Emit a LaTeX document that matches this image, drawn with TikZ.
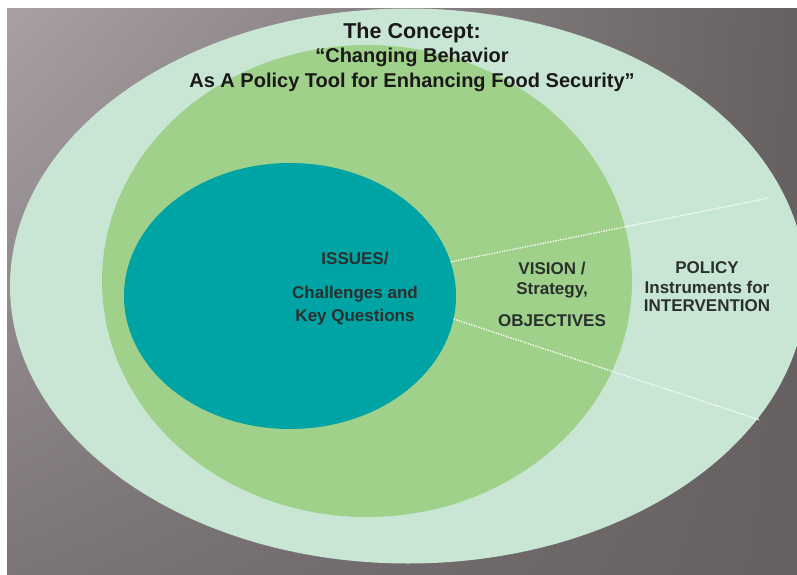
\documentclass[tikz,border=0pt]{standalone}
\usepackage{fontspec}
\setmainfont{Liberation Sans}
\usetikzlibrary{shapes.geometric,shadings}
\definecolor{bglight}{RGB}{168,160,162}
\definecolor{bgmid}{RGB}{124,117,119}
\definecolor{bgdark}{RGB}{102,96,97}
\definecolor{palegreen}{RGB}{201,230,212}
\definecolor{leafgreen}{RGB}{160,209,138}
\definecolor{issuesteal}{RGB}{0,164,164}
\definecolor{textgray}{RGB}{42,48,46}

\begin{document}
\begin{tikzpicture}[x=1pt,y=-1pt,
    blob/.style={ellipse,inner sep=0pt},
    ttl/.style={anchor=base,font=\bfseries\fontsize{20}{22}\selectfont,text=black!90},
    lbl/.style={anchor=base,font=\bfseries\fontsize{17}{19}\selectfont,text=textgray}]
    \fill [white] (0,0) rectangle (797,575);
    \shade [upper left=bglight,upper right=bgdark,lower left=bgmid,lower right=bgdark] (7,9) rectangle (797,575);
    \begin{scope}
    \clip (7,9) rectangle (797,575);
    \node [blob,fill=palegreen,minimum width=796,minimum height=555] (outer) at (408,286) {};
    \node [blob,fill=leafgreen,minimum width=530,minimum height=472] (middle) at (367,281) {};
    \node [blob,fill=issuesteal,minimum width=332,minimum height=266] (issues) at (290,296) {};
    \end{scope}
    \coordinate (upend) at (769,198);
    \coordinate (lowend) at (760,420);
    \draw [white,line width=1.3pt,dash pattern=on 1.3pt off 1.3pt] (issues.12) -- (upend);
    \draw [white,line width=1.3pt,dash pattern=on 1.3pt off 1.3pt] (issues.-8) -- (lowend);
    \node [ttl,font=\bfseries\fontsize{21.5}{23}\selectfont] (concept) at (412,39) {The Concept:};
    \node [ttl] (change) at (412,63) {“Changing Behavior};
    \node [ttl] (tool) at (412,88) {As A Policy Tool for Enhancing Food Security”};
    \node [lbl] (iss) at (355,264) {ISSUES/};
    \node [lbl] (chal) at (355,298) {Challenges and};
    \node [lbl] (keyq) at (355,321) {Key Questions};
    \node [lbl] (vision) at (552,274) {VISION /};
    \node [lbl] (strat) at (552,294) {Strategy,};
    \node [lbl] (obj) at (552,326) {OBJECTIVES};
    \node [lbl] (policy) at (707,273) {POLICY};
    \node [lbl] (instr) at (707,293) {Instruments for};
    \node [lbl] (interv) at (707,311) {INTERVENTION};
\end{tikzpicture}
\end{document}
